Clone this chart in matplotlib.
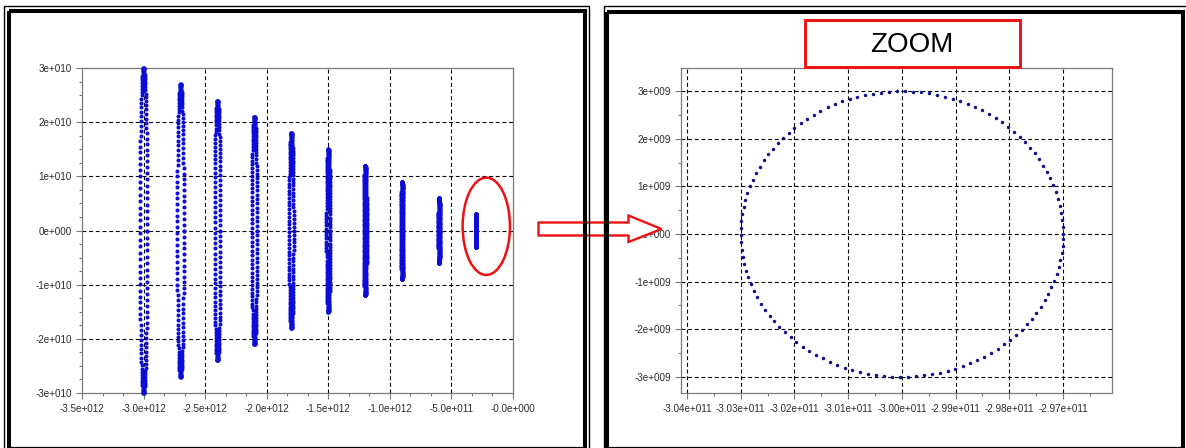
import numpy as np
import matplotlib
matplotlib.use("Agg")
import matplotlib.pyplot as plt
from matplotlib.patches import Rectangle, Ellipse, Polygon
from matplotlib.lines import Line2D
from matplotlib.ticker import FixedLocator, AutoMinorLocator
from matplotlib.transforms import Affine2D

plt.rcParams["font.family"] = ["Liberation Sans", "DejaVu Sans"]

# circle centres (real axis) and radii, same units on both axes
centers = [-3.0e12, -2.7e12, -2.4e12, -2.1e12, -1.8e12,
           -1.5e12, -1.2e12, -0.9e12, -0.6e12, -0.3e12]
radii = [3.0e10, 2.7e10, 2.4e10, 2.1e10, 1.8e10,
         1.5e10, 1.2e10, 0.9e10, 0.6e10, 0.3e10]
overview_step = 0.04  # rad between sampled points, overview plot
zoom_step = 0.05      # rad between sampled points, zoomed plot

left_xticks = [-3.5e12, -3.0e12, -2.5e12, -2.0e12, -1.5e12, -1.0e12, -0.5e12, 0.0]
left_xlabels = ["-3.5e+012", "-3.0e+012", "-2.5e+012", "-2.0e+012",
                "-1.5e+012", "-1.0e+012", "-5.0e+011", "-0.0e+000"]
left_yticks = [-3e10, -2e10, -1e10, 0.0, 1e10, 2e10, 3e10]
left_ylabels = ["-3e+010", "-2e+010", "-1e+010", "0e+000", "1e+010", "2e+010", "3e+010"]

zoom_xticks = [-3.04e11, -3.03e11, -3.02e11, -3.01e11, -3.00e11, -2.99e11, -2.98e11, -2.97e11]
zoom_xlabels = ["-3.04e+011", "-3.03e+011", "-3.02e+011", "-3.01e+011",
                "-3.00e+011", "-2.99e+011", "-2.98e+011", "-2.97e+011"]
zoom_yticks = [-3e9, -2e9, -1e9, 0.0, 1e9, 2e9, 3e9]
zoom_ylabels = ["-3e+009", "-2e+009", "-1e+009", "0e+000", "1e+009", "2e+009", "3e+009"]
zoom_xlim = (-3.0411e11, -2.9609e11)
zoom_ylim = (-3.34e9, 3.49e9)

W, H = 1186, 448
GRID_STYLE = dict(color="black", linewidth=0.8, linestyle=(0, (3.5, 2.5)), zorder=1)
SPINE_COLOR = "#7a7a7a"


def circle_points(cx, r, step):
    t = np.arange(0.0, 2 * np.pi, step)
    return cx + r * np.cos(t), r * np.sin(t)


def style_axes(ax, xticks, xlabels, yticks, ylabels, xminor, yminor):
    ax.xaxis.set_major_locator(FixedLocator(xticks))
    ax.yaxis.set_major_locator(FixedLocator(yticks))
    ax.set_xticklabels(xlabels)
    ax.set_yticklabels(ylabels)
    ax.xaxis.set_minor_locator(AutoMinorLocator(xminor))
    ax.yaxis.set_minor_locator(AutoMinorLocator(yminor))
    ax.tick_params(which="major", direction="out", length=4, width=0.8,
                   color=SPINE_COLOR, labelsize=7.1, labelcolor="#2a2a2a")
    ax.tick_params(axis="x", which="major", pad=3.8)
    ax.tick_params(axis="y", which="major", pad=3.4)
    ax.tick_params(which="minor", direction="out", length=2, width=0.8, color=SPINE_COLOR)
    for sp in ax.spines.values():
        sp.set_color(SPINE_COLOR)
        sp.set_linewidth(0.9)
    # dashed grid only inside the frame
    x0, x1 = ax.get_xlim()
    y0, y1 = ax.get_ylim()
    tol_x = (x1 - x0) * 1e-3
    tol_y = (y1 - y0) * 1e-3
    for v in xticks:
        if x0 + tol_x < v < x1 - tol_x:
            ax.axvline(v, **GRID_STYLE)
    for v in yticks:
        if y0 + tol_y < v < y1 - tol_y:
            ax.axhline(v, **GRID_STYLE)


fig = plt.figure(figsize=(W / 100, H / 100), dpi=100)
pix = Affine2D().scale(1 / W, -1 / H).translate(0, 1) + fig.transFigure


def axes_at(left, top, right, bottom):
    return fig.add_axes([left / W, 1 - bottom / H, (right - left) / W, (bottom - top) / H])


# left: all circles on the full scale
ax1 = axes_at(82, 68, 513, 393)
ax1.set_xlim(-3.5e12, 0.0)
ax1.set_ylim(-3e10, 3e10)
for cx, r in zip(centers, radii):
    xs, ys = circle_points(cx, r, overview_step)
    ax1.plot(xs, ys, "o", ms=2.9, color="#0c0cd6", mec="none", zorder=3, clip_on=False)
style_axes(ax1, left_xticks, left_xlabels, left_yticks, left_ylabels, 3, 4)

# right: zoom on the smallest circle
ax2 = axes_at(681, 68, 1112, 393)
ax2.set_xlim(*zoom_xlim)
ax2.set_ylim(*zoom_ylim)
xs, ys = circle_points(centers[-1], radii[-1], zoom_step)
ax2.plot(xs, ys, "o", ms=2.5, color="#10108a", mec="none", zorder=3)
style_axes(ax2, zoom_xticks, zoom_xlabels, zoom_yticks, zoom_ylabels, 2, 2)

# red marker around the zoomed circle
fig.add_artist(Ellipse((486.3, 226.3), 47.3, 97.3, fill=False, edgecolor="#ee1111",
                       linewidth=1.8, transform=pix, zorder=4))

# hollow arrow linking the two panels
arrow = [(538.5, 222.5), (628.5, 222.5), (628.5, 215.5), (661.5, 229.0),
         (628.5, 242.0), (628.5, 235.5), (538.5, 235.5)]
fig.add_artist(Polygon(arrow, closed=True, facecolor="white", edgecolor="#ee1111",
                       linewidth=1.7, joinstyle="miter", transform=pix, zorder=4))

# double frames around each panel
for thin, thick in [((3.8, 6.5, 589.2, 460), (8.5, 11.5, 585.0, 451)),
                    ((603.5, 6.5, 1190, 460), (607.0, 12.0, 1183.2, 451))]:
    l, t, r, b = thin
    fig.add_artist(Rectangle((l, t), r - l, b - t, fill=False, edgecolor="black",
                             linewidth=1.0, transform=pix, zorder=5))
    l, t, r, b = thick
    fig.add_artist(Rectangle((l, t), r - l, b - t, fill=False, edgecolor="black",
                             linewidth=2.9, joinstyle="miter", transform=pix, zorder=5))
    fig.add_artist(Line2D([l + 2, r - 2], [447.5, 447.5], color="black",
                          linewidth=0.9, transform=pix, zorder=5))

# title box of the zoom panel
fig.add_artist(Rectangle((804.5, 20.5), 215.5, 47.0, facecolor="white", edgecolor="#ee1111",
                         linewidth=2.1, joinstyle="miter", transform=pix, zorder=6))
fig.text(912 / W, 1 - 45 / H, "ZOOM", ha="center", va="center", fontsize=20,
         color="black", zorder=7)

fig.savefig("out.png", dpi=100)
